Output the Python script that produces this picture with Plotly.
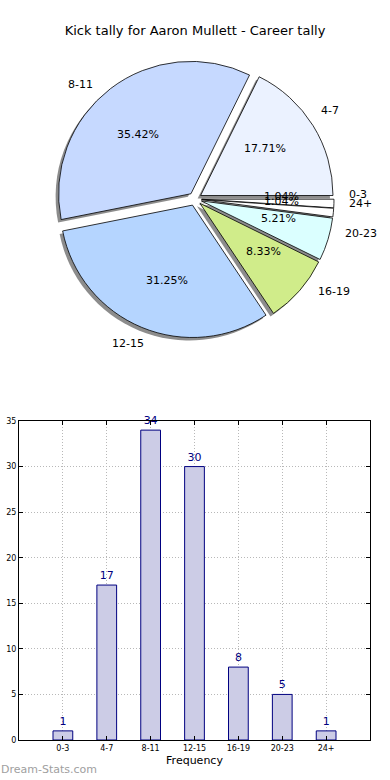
import math
import plotly.graph_objects as go

# ---- data ----
categories = ["0-3", "4-7", "8-11", "12-15", "16-19", "20-23", "24+"]
counts = [1, 17, 34, 30, 8, 5, 1]
pie_colors = ["#FFFFFF", "#EBF2FF", "#C6D9FF", "#B5D5FF", "#D0EC8A", "#DBFFFF", "#FFFFFF"]
title_text = "Kick tally for Aaron Mullett - Career tally"
y_ticks = [0, 5, 10, 15, 20, 25, 30, 35]

PULL = 0.05
W, H = 390, 780


def px(xp):
    return xp / W


def py(yp):
    return 1 - yp / H


# pie domain (square, in page pixels)
cx, cy, D = 195, 199, 278
pie_dom_x = [px(cx - D / 2), px(cx + D / 2)]
pie_dom_y = [py(cy + D / 2), py(cy - D / 2)]
sh = 3  # shadow offset px
shadow_dom_x = [pie_dom_x[0] - sh / W, pie_dom_x[1] - sh / W]
shadow_dom_y = [pie_dom_y[0] - sh / H, pie_dom_y[1] - sh / H]

# overlay axes for pie text: unit = pie radius
rng = 1 + PULL
s = D / (2 * rng)  # px per unit
ov_top, ov_bot = 0, 385
ov_x_range = [(0 - cx) / s, (W - cx) / s]
ov_y_range = [(cy - ov_bot) / s, (cy - ov_top) / s]

fig = go.Figure()

# shadow
fig.add_trace(go.Pie(
    labels=categories, values=counts, sort=False, direction="counterclockwise",
    rotation=90, pull=[PULL] * len(counts), textinfo="none", hoverinfo="skip",
    marker=dict(colors=["rgba(0,0,0,0.45)"] * len(counts), line=dict(width=0)),
    domain=dict(x=shadow_dom_x, y=shadow_dom_y), showlegend=False,
))
# main pie
fig.add_trace(go.Pie(
    labels=categories, values=counts, sort=False, direction="counterclockwise",
    rotation=90, pull=[PULL] * len(counts), textinfo="none",
    marker=dict(colors=pie_colors, line=dict(color="#000000", width=0.8)),
    domain=dict(x=pie_dom_x, y=pie_dom_y), showlegend=False,
))

# bar chart
fig.add_trace(go.Bar(
    x=categories, y=counts, width=0.45, text=[str(v) for v in counts], textposition="outside",
    textfont=dict(family="DejaVu Sans", size=11, color="#000080"), cliponaxis=False,
    marker=dict(color="#CCCCE6", line=dict(color="#000080", width=1)),
    xaxis="x", yaxis="y", showlegend=False,
))

# pie text annotations derived from the data (matplotlib-like placement)
tf = dict(family="DejaVu Sans", size=11, color="#000000")
annotations = []
total = sum(counts)
cum = 0
for c, v in zip(categories, counts):
    mid = (cum + v / 2) / total * 2 * math.pi
    cum += v
    ox, oy = PULL * math.cos(mid), PULL * math.sin(mid)
    annotations.append(dict(
        text=f"{v / total * 100:.2f}%", xref="x2", yref="y2",
        x=ox + 0.6 * math.cos(mid), y=oy + 0.6 * math.sin(mid),
        xanchor="center", yanchor="middle", showarrow=False, font=tf))
    lx = ox + 1.1 * math.cos(mid)
    ly = oy + 1.1 * math.sin(mid)
    annotations.append(dict(
        text=c, xref="x2", yref="y2", x=lx, y=ly,
        xanchor="left" if lx > 0 else "right", yanchor="middle", showarrow=False, font=tf))

annotations.append(dict(text="Dream-Stats.com", xref="paper", yref="paper", x=px(-1), y=py(778),
                        xanchor="left", yanchor="bottom", showarrow=False,
                        font=dict(family="DejaVu Sans", size=11, color="#A0A0A0")))
annotations.append(dict(text="Games Played", xref="paper", yref="paper", x=px(-6), y=py(580),
                        xanchor="center", yanchor="middle", textangle=-90, showarrow=False,
                        font=dict(family="DejaVu Sans", size=10, color="#000000")))

grid = dict(showgrid=True, gridcolor="#B8B8B8", griddash="1px,2px", gridwidth=1)
fig.update_layout(
    width=W, height=H, margin=dict(l=0, r=0, t=0, b=0, autoexpand=False),
    paper_bgcolor="#FFFFFF", plot_bgcolor="#FFFFFF",
    title=dict(text=title_text, x=px(195), xanchor="center", y=py(30), yanchor="middle",
               font=dict(family="DejaVu Sans", size=13, color="#000000")),
    xaxis=dict(domain=[px(19), px(370)], anchor="y", range=[-1, 7], type="category",
               automargin=False,
               tickfont=dict(family="DejaVu Sans", size=8, color="#000000"),
               ticks="inside", ticklen=4, tickcolor="#000000",
               showline=True, linecolor="#000000", linewidth=1, mirror="allticks",
               title=dict(text="Frequency", font=dict(family="DejaVu Sans", size=11, color="#000000"),
                          standoff=4),
               **grid),
    yaxis=dict(domain=[py(740), py(421)], anchor="x", range=[0, 35], automargin=False,
               tickvals=y_ticks, tickfont=dict(family="DejaVu Sans", size=8, color="#000000"),
               ticks="inside", ticklen=4, tickcolor="#000000",
               showline=True, linecolor="#000000", linewidth=1, mirror="allticks",
               zeroline=False, **grid),
    xaxis2=dict(domain=[0, 1], anchor="y2", range=ov_x_range, visible=False,
                fixedrange=True, automargin=False),
    yaxis2=dict(domain=[py(ov_bot), py(ov_top)], anchor="x2", range=ov_y_range, visible=False,
                fixedrange=True, automargin=False),
    annotations=annotations,
)

fig.write_html("out.html", config={"displayModeBar": False},
               post_script="document.body.style.margin='0';")
